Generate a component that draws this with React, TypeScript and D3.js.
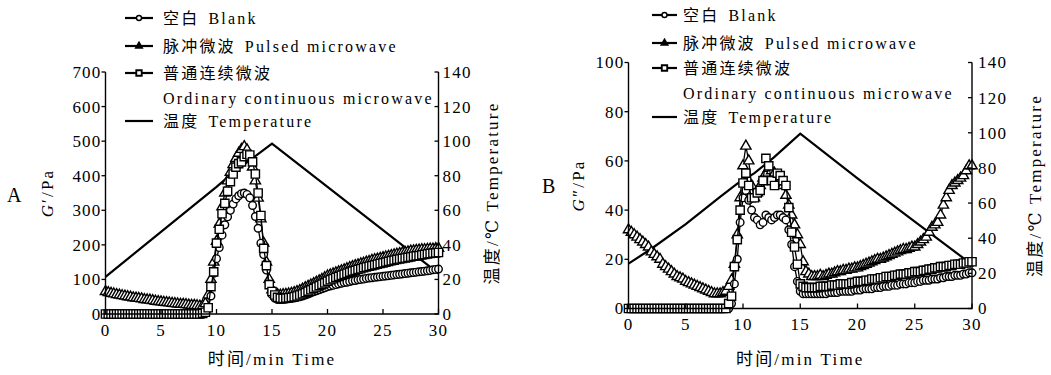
import React from 'react';
import * as d3 from 'd3';

const W = 1051;
const H = 375;
const FONT = "'Liberation Serif', Tinos, 'Times New Roman', 'DejaVu Serif', 'Noto Sans CJK SC', serif";

// rheometer sampling grid (every 0.25 min, 0..30 min)
const TIME = d3.range(0, 30.001, 0.25);

const X_TICKS = [0, 5, 10, 15, 20, 25, 30];
const T_TICKS = [0, 20, 40, 60, 80, 100, 120, 140];
const A_Y_TICKS = [0, 100, 200, 300, 400, 500, 600, 700];
const B_Y_TICKS = [0, 20, 40, 60, 80, 100];

// ---- panel A : G' (Pa), one row per minute ----
const A_BLANK = [
  0, 0, 0, 0, 0, 0, 0, 0, 0, 0, 0, 0, 0, 0, 0, 0, 0, 0, 0, 0, // 0-4
  0, 0, 0, 0, 0, 0, 0, 0, 0, 0, 0, 0, 0, 0, 0, 0, // 5-8
  2, 15, 52, 118, // 9
  160, 192, 228, 258, // 10
  281, 300, 318, 333, // 11
  342, 348, 350, 346, // 12
  336, 314, 282, 248, // 13
  205, 172, 127, 86, // 14
  56, 46, 42, 42, // 15
  42, 43, 44, 45, // 16
  47, 48, 50, 52, // 17
  55, 58, 61, 64, // 18
  67, 70, 73, 76, // 19
  79, 81, 83, 85, // 20
  87, 89, 91, 92, // 21
  94, 96, 97, 99, // 22
  100, 101, 103, 104, // 23
  105, 106, 107, 108, // 24
  109, 110, 111, 112, // 25
  113, 114, 115, 116, // 26
  117, 118, 119, 120, // 27
  121, 122, 123, 124, // 28
  125, 126, 128, 129, // 29
  130, // 30
];

const A_PULSED = [
  65, 62, 60, 58, // 0
  56, 55, 53, 52, // 1
  50, 49, 47, 46, // 2
  45, 44, 42, 41, // 3
  40, 39, 37, 36, // 4
  35, 34, 33, 32, // 5
  31, 30, 29, 28, // 6
  28, 27, 26, 25, // 7
  25, 24, 23, 24, // 8
  30, 55, 100, 150, // 9
  210, 260, 310, 350, // 10
  385, 410, 432, 450, // 11
  465, 476, 484, 475, // 12
  450, 425, 385, 335, // 13
  275, 205, 150, 100, // 14
  70, 60, 56, 55, // 15
  56, 57, 58, 60, // 16
  62, 65, 68, 72, // 17
  76, 80, 84, 88, // 18
  92, 96, 100, 105, // 19
  110, 113, 116, 119, // 20
  122, 125, 128, 131, // 21
  134, 137, 140, 142, // 22
  145, 147, 150, 152, // 23
  155, 157, 159, 161, // 24
  163, 165, 167, 169, // 25
  171, 173, 175, 177, // 26
  178, 180, 182, 183, // 27
  184, 185, 186, 186, // 28
  187, 188, 188, 189, // 29
  190, // 30
];

const A_CONT = [
  0, 0, 0, 0, 0, 0, 0, 0, 0, 0, 0, 0, 0, 0, 0, 0, 0, 0, 0, 0, // 0-4
  0, 0, 0, 0, 0, 0, 0, 0, 0, 0, 0, 0, // 5-7
  0, 0, 0, 2, // 8
  5, 18, 79, 122, // 9
  205, 245, 290, 320, // 10
  355, 383, 405, 425, // 11
  435, 440, 455, 462, // 12
  460, 440, 405, 350, // 13
  285, 190, 140, 85, // 14
  65, 55, 48, 46, // 15
  45, 46, 47, 48, // 16
  50, 52, 55, 58, // 17
  62, 66, 70, 74, // 18
  78, 82, 86, 90, // 19
  95, 99, 102, 106, // 20
  109, 112, 115, 118, // 21
  121, 124, 126, 129, // 22
  131, 134, 136, 138, // 23
  140, 142, 144, 146, // 24
  148, 150, 152, 154, // 25
  156, 158, 159, 161, // 26
  162, 164, 165, 167, // 27
  168, 169, 171, 172, // 28
  174, 175, 176, 177, // 29
  178, // 30
];

const A_TEMP_T = [0, 5, 10, 11, 13, 15, 20, 25, 30];
const A_TEMP = [21.5, 47.5, 73.5, 79, 89, 98.5, 73.5, 48.5, 23.5];

// ---- panel B : G'' (Pa) ----
const B_BLANK = [
  0, 0, 0, 0, 0, 0, 0, 0, 0, 0, 0, 0, 0, 0, 0, 0, 0, 0, 0, 0, // 0-4
  0, 0, 0, 0, 0, 0, 0, 0, 0, 0, 0, 0, 0, 0, 0, 0, // 5-8
  2, 10, 20, 35, // 9
  45, 48, 44, 40, // 10
  37, 36, 34, 35, // 11
  38, 37, 36, 37, // 12
  38, 38, 37, 36, // 13
  32, 26, 17, 11, // 14
  7, 6, 6, 6, // 15
  6, 6, 6, 6, // 16
  6, 6, 6.5, 6.5, // 17
  6.5, 6.5, 7, 7, // 18
  7, 7, 7, 7.5, // 19
  7.5, 7.5, 8, 8, // 20
  8, 8, 8.5, 8.5, // 21
  8.5, 9, 9, 9, // 22
  9.5, 9.5, 9.5, 10, // 23
  10, 10, 10.5, 10.5, // 24
  10.5, 11, 11, 11.5, // 25
  11.5, 11.5, 12, 12, // 26
  12, 12.5, 12.5, 13, // 27
  13, 13, 13.5, 13.5, // 28
  13.5, 14, 14, 14.5, // 29
  14.5, // 30
];

const B_PULSED = [
  32, 31, 30, 29, // 0
  28, 27, 26, 25, // 1
  23, 22, 21, 20, // 2
  18, 17, 16, 15, // 3
  14, 13, 12.5, 12, // 4
  11, 10.5, 10, 9.5, // 5
  9, 8.5, 8, 7.5, // 6
  7, 6.5, 6, 6, // 7
  6, 6.5, 7, 9, // 8
  11.5, 18, 30, 45, // 9
  58, 66, 60, 50, // 10
  45, 47, 50, 53, // 11
  55, 57, 56, 55, // 12
  54, 52, 50, 46, // 13
  42, 38, 34, 30, // 14
  26, 19, 15, 14, // 15
  13, 13, 13, 13.5, // 16
  13, 13.5, 14, 14, // 17
  14.5, 15, 15, 15.5, // 18
  15.5, 16, 16, 16.5, // 19
  16.5, 17, 17.5, 18, // 20
  18.5, 19, 19.5, 20, // 21
  20, 20.5, 21, 21.5, // 22
  22, 22.5, 23, 23.5, // 23
  24, 24, 24.5, 25, // 24
  25, 26, 27, 28, // 25
  29, 31, 33, 34, // 26
  35, 38, 42, 45, // 27
  48, 50, 51, 52, // 28
  53, 54, 56, 58, // 29
  58, // 30
];

const B_CONT = [
  0, 0, 0, 0, 0, 0, 0, 0, 0, 0, 0, 0, 0, 0, 0, 0, 0, 0, 0, 0, // 0-4
  0, 0, 0, 0, 0, 0, 0, 0, 0, 0, 0, 0, // 5-7
  0, 0, 0, 2, // 8
  5, 17, 28, 40, // 9
  51, 55, 50, 45, // 10
  45, 47, 48, 52, // 11
  61, 58, 52, 50, // 12
  55, 54, 52, 50, // 13
  41, 31, 25, 18, // 14
  10, 9, 8.5, 8.5, // 15
  8.5, 8.5, 8.5, 9, // 16
  9, 9, 9, 9.5, // 17
  9.5, 9.5, 10, 10, // 18
  10, 10, 10.5, 10.5, // 19
  11, 11, 11, 11.5, // 20
  11.5, 12, 12, 12, // 21
  12.5, 12.5, 13, 13, // 22
  13, 13.5, 13.5, 14, // 23
  14, 14, 14.5, 14.5, // 24
  15, 15, 15, 15.5, // 25
  15.5, 16, 16, 16.5, // 26
  16.5, 17, 17, 17, // 27
  17.5, 17.5, 18, 18, // 28
  18, 18.5, 18.5, 19, // 29
  19, // 30
];

const B_TEMP_T = [0, 2, 5, 8, 9.5, 11, 12.7, 15, 20, 25, 30];
const B_TEMP = [25.5, 34, 48, 63.5, 71, 77, 86, 99.5, 74, 49.5, 25];

const triPath = d3.symbol(d3.symbolTriangle, 46)();
const sqPath = d3.symbol(d3.symbolSquare, 68)();

function Marker({ kind, x, y, small = false }: any) {
  const s = small ? 0.66 : 1;
  if (kind === 'circle')
    return <circle cx={x} cy={y} r={3.8 * s} fill="#fff" stroke="#000" strokeWidth={1.4} />;
  if (kind === 'tri')
    return (
      <path d={triPath} transform={`translate(${x},${y}) scale(${s})`}
        fill={small ? '#000' : '#fff'} stroke="#000" strokeWidth={1.4 / s} />
    );
  return (
    <path d={sqPath} transform={`translate(${x},${y}) scale(${s})`}
      fill="#fff" stroke="#000" strokeWidth={small ? 2.8 : 1.4} />
  );
}

function Panel({ p }: any) {
  const x = d3.scaleLinear().domain([0, 30]).range([p.x0, p.x1]);
  const y = d3.scaleLinear().domain([0, p.yMax]).range([p.y0, p.yTop]);
  const yT = d3.scaleLinear().domain([0, 140]).range([p.y0, p.yTop]);
  const line = d3.line<number>().x((_, i) => x(TIME[i])).y((v) => y(v));
  const tempLine = d3.line<number>().x((_, i) => x(p.tempT[i])).y((v) => yT(v));
  const series = [
    { vals: p.pulsed, kind: 'tri' },
    { vals: p.blank, kind: 'circle' },
    { vals: p.cont, kind: 'square' },
  ];
  const ls = { letterSpacing: '2.2px', fontFamily: FONT };
  const ts = { letterSpacing: '1.2px', fontFamily: FONT };
  const legendRows = p.legendY;
  const midY = (p.y0 + p.yTop) / 2;
  return (
    <g fill="#000">
      {/* temperature */}
      <path d={tempLine(p.temp) || ''} fill="none" stroke="#000" strokeWidth={2.2} />
      {series.map((s) => (
        <g key={s.kind}>
          <path d={line(s.vals) || ''} fill="none" stroke="#000" strokeWidth={1.3} />
          {s.vals.map((v: number, i: number) => (
            <Marker key={i} kind={s.kind} x={x(TIME[i])} y={y(v)} />
          ))}
        </g>
      ))}
      {/* axes */}
      <path d={`M${p.x0},${p.yTop}V${p.y0}H${p.x1}V${p.yTop}`} fill="none" stroke="#000" strokeWidth={1.4} />
      {p.yTicks.map((t: number) => (
        <g key={'y' + t}>
          <line x1={p.x0 - 4} x2={p.x0} y1={y(t)} y2={y(t)} stroke="#000" strokeWidth={1.3} />
          <text x={p.x0 - 4} y={y(t)} dy="0.35em" textAnchor="end" fontSize={17} style={ts}>{t}</text>
        </g>
      ))}
      {T_TICKS.map((t) => (
        <g key={'t' + t}>
          <line x1={p.x1 - 4} x2={p.x1} y1={yT(t)} y2={yT(t)} stroke="#000" strokeWidth={1.3} />
          <text x={p.x1 + p.rLabelDx} y={yT(t)} dy="0.35em" fontSize={17} style={ts}>{t}</text>
        </g>
      ))}
      {X_TICKS.map((t) => (
        <g key={'x' + t}>
          <line x1={x(t)} x2={x(t)} y1={p.y0} y2={p.y0 - 5} stroke="#000" strokeWidth={1.3} />
          <text x={x(t)} y={p.y0 + 21.5} textAnchor="middle" fontSize={17} style={ts}>{t}</text>
        </g>
      ))}
      {/* titles */}
      <text x={(p.x0 + p.x1) / 2} y={365} textAnchor="middle" fontSize={17} style={ls}>时间/min Time</text>
      <text transform={`translate(${p.gTitleX},${midY}) rotate(-90)`} textAnchor="middle" fontSize={17} style={ls}>
        <tspan fontStyle="italic">G</tspan>{p.prime}/Pa
      </text>
      <text transform={`translate(${p.tTitleX},${midY}) rotate(-90)`} textAnchor="middle" fontSize={17} style={ls}>
        温度/℃ Temperature
      </text>
      <text x={p.tagX} y={p.tagY} fontSize={20} style={{ fontFamily: FONT }}>{p.tag}</text>
      {/* legend */}
      {[
        { kind: 'circle', cn: '空白', en: 'Blank' },
        { kind: 'tri', cn: '脉冲微波', en: 'Pulsed microwave' },
        { kind: 'square', cn: '普通连续微波', en: '' },
        { kind: null, cn: '', en: 'Ordinary continuous microwave' },
        { kind: 'line', cn: '温度', en: 'Temperature' },
      ].map((r, i) => (
        <g key={'lg' + i}>
          {r.kind && (
            <line x1={p.legX0} x2={p.legX1} y1={legendRows[i]} y2={legendRows[i]} stroke="#000" strokeWidth={2.2} />
          )}
          {r.kind && r.kind !== 'line' && (
            <Marker kind={r.kind} x={(p.legX0 + p.legX1) / 2} y={legendRows[i]} small />
          )}
          <text x={p.legText} y={legendRows[i] + 5.5} fontSize={16} style={ls}>
            {r.cn}
            {r.en && <tspan dx={r.cn ? 9 : 0}>{r.en}</tspan>}
          </text>
        </g>
      ))}
    </g>
  );
}

const PANELS = [
  {
    tag: 'A', tagX: 7, tagY: 202, prime: '′',
    x0: 105.5, x1: 438.5, y0: 314, yTop: 72, yMax: 700, yTicks: A_Y_TICKS,
    rLabelDx: 4, gTitleX: 53, tTitleX: 498,
    blank: A_BLANK, pulsed: A_PULSED, cont: A_CONT, temp: A_TEMP, tempT: A_TEMP_T,
    legX0: 125, legX1: 153, legText: 163, legendY: [18, 46, 73, 98, 121],
  },
  {
    tag: 'B', tagX: 542, tagY: 193, prime: '″',
    x0: 628.5, x1: 972, y0: 308.5, yTop: 62.5, yMax: 100, yTicks: B_Y_TICKS,
    rLabelDx: 6, gTitleX: 584, tTitleX: 1041,
    blank: B_BLANK, pulsed: B_PULSED, cont: B_CONT, temp: B_TEMP, tempT: B_TEMP_T,
    legX0: 652, legX1: 677, legText: 683, legendY: [15, 43, 68, 93, 117],
  },
];

export default function App() {
  return (
    <svg width={W} height={H} viewBox={`0 0 ${W} ${H}`}
      style={{ position: 'absolute', left: 0, top: 0, background: '#fff' }}>
      <rect width={W} height={H} fill="#fff" />
      {PANELS.map((p) => <Panel key={p.tag} p={p} />)}
    </svg>
  );
}
